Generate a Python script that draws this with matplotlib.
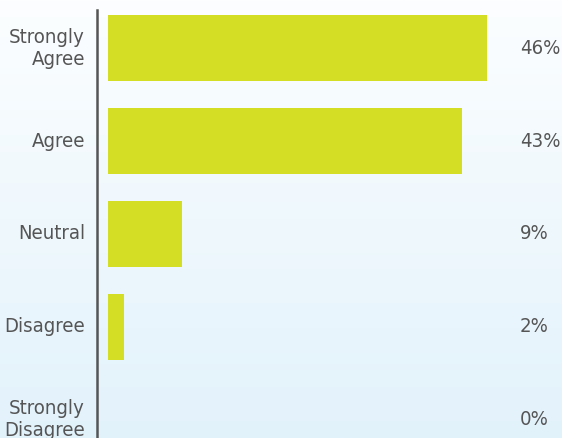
import numpy as np
import matplotlib.pyplot as plt
from matplotlib.colors import LinearSegmentedColormap
from matplotlib import font_manager

categories = ["Strongly\nAgree", "Agree", "Neutral", "Disagree", "Strongly\nDisagree"]
values = [46, 43, 9, 2, 0]
labels = ["46%", "43%", "9%", "2%", "0%"]

W, H = 562, 438
fig = plt.figure(figsize=(W / 100, H / 100), dpi=100)

# background gradient
bg = fig.add_axes([0, 0, 1, 1], zorder=0)
cmap = LinearSegmentedColormap.from_list("bg", ["#FCFEFF", "#E2F2FB"])
bg.imshow(np.linspace(0, 1, 256).reshape(-1, 1), aspect="auto", cmap=cmap,
          extent=[0, 1, 0, 1])
bg.set_axis_off()

ax = fig.add_axes([97 / W, 0, 1 - 97 / W, 428 / H], zorder=1)
ax.patch.set_alpha(0)
y = np.arange(len(categories))
ax.barh(y, values, height=0.71, color="#D4DE24")
ax.set_xlim(-1.335, 55.1)
ax.set_ylim(4.194, -0.409)

# pick a narrow font if one is around
fonts = font_manager.fontManager.ttflist
names = {f.name for f in fonts}
narrow = [f.name for f in fonts
          if str(f.stretch) in ("condensed", "semi-condensed", "extra-condensed")
          or "Condensed" in f.name or "Narrow" in f.name]
if narrow:
    fam, stretch, size = narrow[0], "condensed", 14.6
else:
    fam, stretch, size = "Roboto" if "Roboto" in names else "DejaVu Sans", "normal", 13.5

for yi, cat, lab in zip(y, categories, labels):
    ax.text(-2.8, yi, cat, ha="right", va="center", fontsize=size,
            color="#555555", family=[fam, "DejaVu Sans"], stretch=stretch,
            linespacing=1.2)
    ax.text(50.0, yi, lab, ha="left", va="center", fontsize=size,
            color="#555555", family=[fam, "DejaVu Sans"], stretch=stretch)

for s in ["top", "right", "bottom"]:
    ax.spines[s].set_visible(False)
ax.spines["left"].set_color("#555555")
ax.spines["left"].set_linewidth(1.8)
ax.set_xticks([])
ax.set_yticks([])

fig.savefig("out.png", dpi=100)
